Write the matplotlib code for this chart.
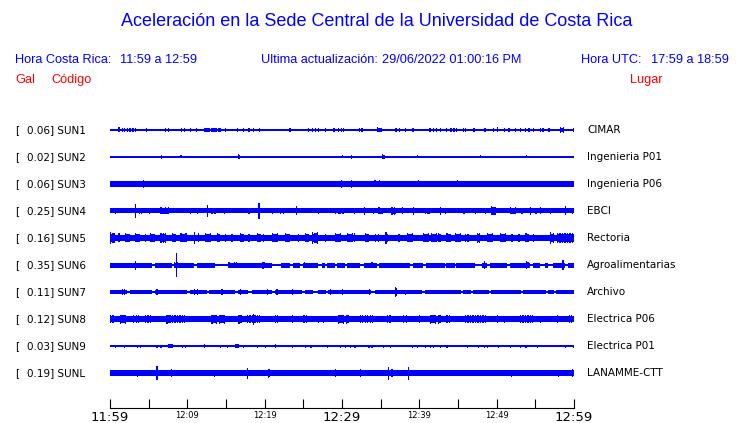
import matplotlib
matplotlib.use('Agg')
import matplotlib.pyplot as plt

# estaciones
codigos = ['SUN1', 'SUN2', 'SUN3', 'SUN4', 'SUN5', 'SUN6', 'SUN7', 'SUN8', 'SUN9', 'SUNL']
gal = [0.06, 0.02, 0.06, 0.25, 0.16, 0.35, 0.11, 0.12, 0.03, 0.19]
lugares = ['CIMAR', 'Ingenieria P01', 'Ingenieria P06', 'EBCI', 'Rectoria',
           'Agroalimentarias', 'Archivo', 'Electrica P06', 'Electrica P01', 'LANAMME-CTT']

# semi-amplitud del fondo de cada traza (pixeles) y nivel en los tramos tranquilos
fondo = [0.8, 0.7, 2.8, 2.5, 3.4, 2.5, 2.2, 3.0, 0.7, 2.6]
fondo_bajo = [0.8, 0.7, 2.8, 2.5, 3.4, 1.0, 1.0, 3.0, 0.7, 2.6]

# tramos tranquilos (minutos desde 11:59)
tranquilo = [
    [], [], [], [], [],
    [(5.4, 5.8), (8.0, 8.3), (10.8, 11.2), (13.6, 15.2), (20.9, 22.1), (23.3, 23.7),
     (24.6, 25.0), (26.9, 27.4), (27.8, 28.0), (29.1, 29.3), (30.4, 30.6), (32.3, 32.8),
     (34.5, 34.8), (38.8, 39.2), (40.5, 40.9), (43.3, 43.5), (44.6, 44.8), (47.2, 48.1),
     (48.7, 49.1), (51.3, 51.7), (54.3, 54.7), (55.6, 56.2), (56.7, 57.3), (58.8, 59.2)],
    [(2.2, 2.6), (5.4, 5.8), (9.9, 10.3), (12.5, 12.8), (16.2, 16.5), (17.9, 18.3),
     (21.0, 21.3), (24.8, 25.2), (26.3, 26.9), (27.9, 28.2), (33.8, 34.3), (40.4, 40.7),
     (45.4, 45.7), (46.7, 47.0), (49.0, 49.3), (53.1, 53.4), (56.4, 56.7), (57.4, 57.7)],
    [], [], [],
]

# eventos: (inicio, fin, semi-amplitud en pixeles)
eventos = [
    # SUN1
    [(1.07, 1.07, 2.5), (1.5, 1.9, 1.6), (2.2, 2.6, 1.6), (2.9, 3.5, 1.6), (4.6, 4.6, 1.6),
     (7.1, 7.1, 1.6), (7.5, 7.5, 1.6), (9.2, 9.6, 1.6), (10.3, 10.3, 1.6), (11.1, 11.4, 1.6),
     (12.1, 14.2, 1.9), (14.9, 14.9, 1.6), (16.4, 16.4, 1.6), (17.2, 17.2, 1.6),
     (17.9, 17.9, 1.6), (18.5, 18.5, 1.6), (19.3, 19.3, 1.6), (20.3, 20.3, 1.3),
     (23.2, 23.2, 1.6), (25.6, 25.6, 1.6), (26.1, 26.1, 1.6), (26.5, 26.5, 1.6),
     (26.9, 26.9, 1.6), (27.8, 27.8, 1.6), (28.9, 28.9, 1.6), (29.5, 30.3, 1.6),
     (32.2, 32.8, 1.6), (34.5, 35.0, 2.5), (36.9, 36.9, 1.6), (37.4, 37.4, 1.6),
     (38.1, 38.1, 1.6), (39.1, 39.1, 1.6), (39.8, 39.8, 1.3), (41.3, 41.3, 1.6),
     (41.8, 41.8, 1.6), (42.1, 42.1, 1.6), (42.7, 42.7, 1.6), (43.4, 43.4, 1.6),
     (44.0, 44.0, 1.6), (44.4, 45.0, 1.6), (45.6, 46.0, 1.6), (47.0, 47.0, 1.6),
     (48.4, 48.7, 1.6), (49.5, 49.5, 1.6), (50.0, 50.0, 2.5), (50.9, 50.9, 1.6),
     (51.5, 51.8, 1.6), (52.4, 52.4, 1.6), (53.0, 53.0, 1.6), (53.6, 53.6, 1.6),
     (54.1, 54.1, 1.6), (54.7, 54.7, 1.6), (55.6, 56.1, 1.6), (56.7, 56.7, 1.6),
     (58.2, 58.6, 3.0), (59.9, 59.9, 1.6)],
    # SUN2
    [(6.6, 6.6, 2.0), (9.1, 9.1, 1.5), (16.5, 16.7, 2.5), (30.0, 30.0, 1.5), (31.1, 31.1, 2.0),
     (35.2, 35.4, 2.5), (39.7, 39.7, 1.5), (47.8, 47.8, 1.5), (53.8, 53.8, 1.5)],
    # SUN3
    [(4.3, 4.3, 4.0), (29.9, 29.9, 4.0), (31.1, 31.1, 4.0),
     (34.2, 34.2, 3.5), (34.8, 34.8, 3.5), (39.8, 39.8, 3.5), (44.9, 44.9, 3.5)],
    # SUN4
    [(0.6, 0.6, 3.0), (3.2, 3.2, 7.0), (3.7, 4.1, 3.0), (5.0, 5.0, 3.0), (6.5, 7.5, 3.5),
     (10.3, 10.3, 3.0), (11.2, 11.2, 3.0), (12.5, 12.5, 6.0), (13.1, 13.6, 3.0),
     (14.7, 14.7, 3.0), (17.9, 17.9, 3.0), (19.2, 19.2, 8.0), (20.9, 20.9, 3.0),
     (22.0, 22.4, 3.0), (24.0, 24.0, 4.5), (26.9, 26.9, 3.0), (29.1, 30.2, 3.0),
     (31.5, 31.5, 3.0), (32.8, 32.8, 4.0), (34.0, 34.0, 3.0), (34.7, 35.3, 3.5),
     (36.4, 36.9, 4.0), (37.7, 37.7, 3.5), (39.2, 39.2, 4.0), (40.7, 41.2, 3.0),
     (42.7, 42.7, 4.0), (43.3, 43.3, 3.0), (45.7, 45.7, 3.0), (47.2, 47.2, 3.0),
     (48.5, 48.5, 3.0), (49.3, 49.8, 4.5), (51.7, 52.4, 3.5), (53.2, 53.2, 3.0),
     (54.3, 54.3, 4.0), (55.0, 55.0, 3.0), (55.6, 55.6, 3.5), (56.9, 56.9, 3.0),
     (58.8, 58.8, 4.5), (59.7, 59.7, 3.0)],
    # SUN5
    [(0.0, 0.6, 5.5), (1.08, 1.08, 4.5), (1.9, 2.4, 4.5), (3.2, 3.7, 4.5), (4.5, 4.5, 4.0),
     (5.2, 5.8, 4.5), (6.5, 7.3, 5.0), (8.0, 8.4, 4.5), (9.1, 9.9, 4.5), (10.8, 10.8, 6.0),
     (11.4, 11.4, 4.5), (12.3, 13.1, 4.5), (13.8, 14.2, 4.5), (14.9, 14.9, 4.0),
     (15.7, 15.7, 4.0), (16.8, 17.2, 4.5), (17.9, 17.9, 4.0), (19.0, 19.4, 4.5),
     (19.8, 19.8, 4.0), (20.9, 21.6, 4.5), (22.6, 23.1, 4.5), (24.3, 24.3, 4.0),
     (25.2, 25.6, 4.5), (26.1, 26.9, 5.5), (27.8, 27.8, 4.0), (29.1, 30.0, 4.5),
     (30.6, 31.7, 4.5), (33.0, 33.4, 4.5), (34.3, 34.7, 4.0), (35.6, 35.8, 5.5),
     (37.3, 37.3, 4.0), (38.4, 39.2, 4.5), (40.5, 42.7, 4.5), (43.5, 44.0, 4.5),
     (44.6, 45.3, 4.5), (45.9, 46.3, 4.0), (47.4, 47.8, 5.0), (48.7, 49.6, 4.5),
     (50.4, 51.3, 4.5), (51.9, 51.9, 4.0), (52.8, 52.8, 4.0), (53.7, 54.1, 4.5),
     (54.7, 54.7, 4.0), (56.9, 57.3, 5.5), (57.8, 59.9, 5.0)],
    # SUN6
    [(3.2, 3.2, 4.5), (8.5, 8.5, 12.0), (8.3, 8.7, 3.0), (15.3, 15.3, 3.0), (16.0, 16.4, 3.0),
     (19.7, 19.9, 3.5), (25.1, 25.1, 3.0), (33.8, 33.8, 3.0), (48.3, 48.3, 4.0),
     (53.8, 54.0, 4.0), (58.5, 58.5, 5.0)],
    # SUN7
    [(1.5, 1.9, 2.8), (6.0, 6.0, 3.0), (10.8, 10.8, 2.8), (11.2, 11.2, 2.8), (14.4, 14.4, 2.8),
     (16.8, 16.8, 2.8), (20.3, 20.3, 2.8), (21.5, 21.7, 3.0), (23.5, 23.5, 2.8),
     (28.4, 28.4, 3.0), (30.0, 30.0, 2.8), (33.5, 33.5, 2.8), (36.8, 37.0, 5.0),
     (38.1, 38.1, 2.5)],
    # SUN8
    [(0.0, 0.6, 4.0), (1.3, 2.2, 4.5), (3.0, 3.7, 3.8), (4.5, 5.4, 3.8), (7.3, 7.8, 4.5),
     (8.0, 9.9, 4.0), (13.1, 14.9, 4.5), (16.6, 17.0, 4.5), (17.7, 19.6, 4.0),
     (18.5, 18.5, 5.5), (21.3, 21.8, 3.8), (23.5, 23.5, 3.8), (25.0, 25.4, 4.0),
     (26.9, 27.8, 3.5), (29.5, 30.8, 4.5), (32.3, 34.0, 3.8), (35.8, 36.2, 4.0),
     (37.9, 38.4, 3.8), (39.9, 40.1, 3.8), (41.4, 42.7, 4.5), (43.5, 44.0, 3.8),
     (45.9, 48.5, 4.0), (50.0, 50.0, 3.8), (50.9, 51.3, 3.5), (53.0, 54.7, 4.0),
     (55.6, 55.6, 3.5), (57.8, 57.8, 3.8), (59.3, 60.0, 4.0)],
    # SUN9
    [(0.6, 0.6, 1.5), (1.8, 1.8, 1.5), (3.5, 3.5, 1.5), (3.9, 3.9, 1.5), (6.0, 6.0, 1.5),
     (6.5, 6.5, 1.5), (7.5, 8.0, 2.0), (9.3, 9.3, 1.5), (9.7, 9.7, 1.5), (12.1, 12.1, 2.0),
     (14.2, 14.2, 1.5), (15.1, 15.1, 1.5), (16.2, 16.6, 2.0), (17.2, 17.2, 1.5),
     (19.0, 19.0, 1.5), (20.0, 20.0, 1.5), (21.3, 21.3, 2.0), (23.5, 23.5, 1.5),
     (25.2, 25.2, 1.5), (25.9, 25.9, 1.5), (28.0, 28.0, 1.5), (29.7, 30.0, 1.5),
     (30.4, 30.6, 1.5), (31.0, 31.2, 1.5), (31.6, 31.6, 1.5), (33.4, 33.4, 1.5),
     (33.8, 33.8, 1.5), (35.3, 35.3, 1.5), (36.2, 36.2, 1.5), (39.0, 39.0, 1.5),
     (39.7, 39.7, 1.5), (40.7, 40.7, 1.5), (41.4, 41.4, 1.5), (41.8, 41.8, 1.5),
     (42.7, 42.7, 1.5), (43.5, 43.5, 1.5), (46.1, 46.1, 1.5), (47.6, 47.6, 1.5),
     (48.3, 48.3, 1.5), (48.7, 48.7, 1.5), (50.2, 50.2, 1.5), (51.7, 51.7, 1.5),
     (53.0, 53.0, 1.5), (53.7, 53.7, 1.5), (55.2, 55.2, 1.5), (58.8, 58.8, 1.5),
     (59.9, 59.9, 1.5)],
    # SUNL
    [(0.2, 1.3, 3.2), (2.4, 2.4, 3.0), (3.5, 3.5, 3.5), (3.9, 3.9, 3.2), (4.5, 4.5, 3.0),
     (6.0, 6.0, 7.0), (7.9, 8.1, 4.0), (9.7, 9.7, 3.0), (13.4, 13.4, 3.5), (15.5, 15.5, 3.0),
     (17.7, 17.7, 5.5), (18.5, 18.5, 3.2), (20.4, 20.6, 4.5), (23.1, 23.1, 3.0),
     (25.6, 25.6, 3.0), (29.1, 29.1, 4.0), (32.3, 32.3, 4.0), (34.0, 34.0, 3.2),
     (34.9, 34.9, 3.2), (35.9, 35.9, 6.5), (36.4, 36.4, 4.0), (38.5, 38.5, 6.5),
     (39.0, 39.0, 3.2), (43.3, 43.3, 3.2), (45.3, 45.3, 3.0), (50.9, 50.9, 3.2),
     (51.8, 52.0, 3.5), (53.2, 53.2, 3.2), (56.9, 56.9, 3.2), (57.9, 58.2, 3.5),
     (59.7, 59.7, 4.0)],
]

etiquetas_x = ['11:59', '12:09', '12:19', '12:29', '12:39', '12:49', '12:59']
azul = '#0000ff'
rojo = '#ff0000'
W, H = 740, 423
esc = 27.0      # pixeles entre trazas
paso = 0.16     # ancho de una muestra dibujada (min)
patron = [1.0, 0.8, 0.95, 0.85, 1.0, 0.75]  # relieve dentro de una rafaga

fig = plt.figure(figsize=(W / 100, H / 100), dpi=100)
ax = fig.add_axes([110 / W, 1 - 408 / H, (574 - 110) / W, (408 - 118) / H])
ax.set_xlim(0, 60)
ax.set_ylim((408 - 130) / esc, (118 - 130) / esc)

for i in range(len(codigos)):
    # fondo continuo, con tramos tranquilos mas delgados
    xs, ws, hs = [], [], []
    t = 0.0
    for a, b in sorted(tranquilo[i]):
        if a > t:
            xs.append(t); ws.append(a - t); hs.append(fondo[i])
        xs.append(a); ws.append(b - a); hs.append(fondo_bajo[i])
        t = b
    xs.append(t); ws.append(60 - t); hs.append(fondo[i])
    # rafagas y picos
    for a, b, h in eventos[i]:
        if b - a <= paso:
            xs.append(a); ws.append(paso); hs.append(h)
            continue
        k = 0
        x = a
        while x < b:
            xs.append(x); ws.append(paso)
            hs.append(max(fondo[i], h * patron[k % len(patron)]))
            x += paso
            k += 1
    alturas = [2 * h / esc for h in hs]
    bases = [i - h / esc for h in hs]
    ax.bar(xs, alturas, width=ws, bottom=bases, align='edge', color=azul,
           linewidth=0, antialiased=False)

    y_fig = 1 - (130 + esc * i) / H
    fig.text(15 / W, y_fig, '[', fontsize=7.5, va='center', ha='left')
    fig.text(27 / W, y_fig, f'{gal[i]:.2f}] {codigos[i]}', fontsize=7.5, va='center', ha='left')
    fig.text(587 / W, y_fig, lugares[i], fontsize=7.5, va='center', ha='left')

for s in ['top', 'left', 'right']:
    ax.spines[s].set_visible(False)
ax.spines['bottom'].set_linewidth(0.8)
ax.set_yticks([])
ax.set_xticks(range(0, 61, 10))
ax.set_xticks(range(5, 60, 10), minor=True)
ax.set_xticklabels(etiquetas_x)
ax.tick_params(axis='x', which='both', direction='in', length=6.5, width=0.8, pad=2)
for k, lab in enumerate(ax.get_xticklabels()):
    lab.set_fontsize(9.5 if k % 3 == 0 else 6)

# encabezado
f = 'Liberation Sans'
fig.text(377 / W, 1 - 22 / H, 'Aceleración en la Sede Central de la Universidad de Costa Rica',
         fontsize=13, color=azul, ha='center', va='center', family=f)
fila1 = 1 - 60 / H
fig.text(15 / W, fila1, 'Hora Costa Rica:', fontsize=9.2, color=azul, va='center', family=f)
fig.text(120 / W, fila1, '11:59 a 12:59', fontsize=9.2, color=azul, va='center', family=f)
fig.text(261 / W, fila1, 'Ultima actualización:', fontsize=9.2, color=azul, va='center', family=f)
fig.text(382 / W, fila1, '29/06/2022 01:00:16 PM', fontsize=9.2, color=azul, va='center', family=f)
fig.text(581 / W, fila1, 'Hora UTC:', fontsize=9.2, color=azul, va='center', family=f)
fig.text(651 / W, fila1, '17:59 a 18:59', fontsize=9.2, color=azul, va='center', family=f)
fila2 = 1 - 80 / H
fig.text(15 / W, fila2, 'Gal', fontsize=9.2, color=rojo, va='center', family=f)
fig.text(51 / W, fila2, 'Código', fontsize=9.2, color=rojo, va='center', family=f)
fig.text(630 / W, fila2, 'Lugar', fontsize=9.2, color=rojo, va='center', family=f)

fig.savefig('out.png', dpi=100)
